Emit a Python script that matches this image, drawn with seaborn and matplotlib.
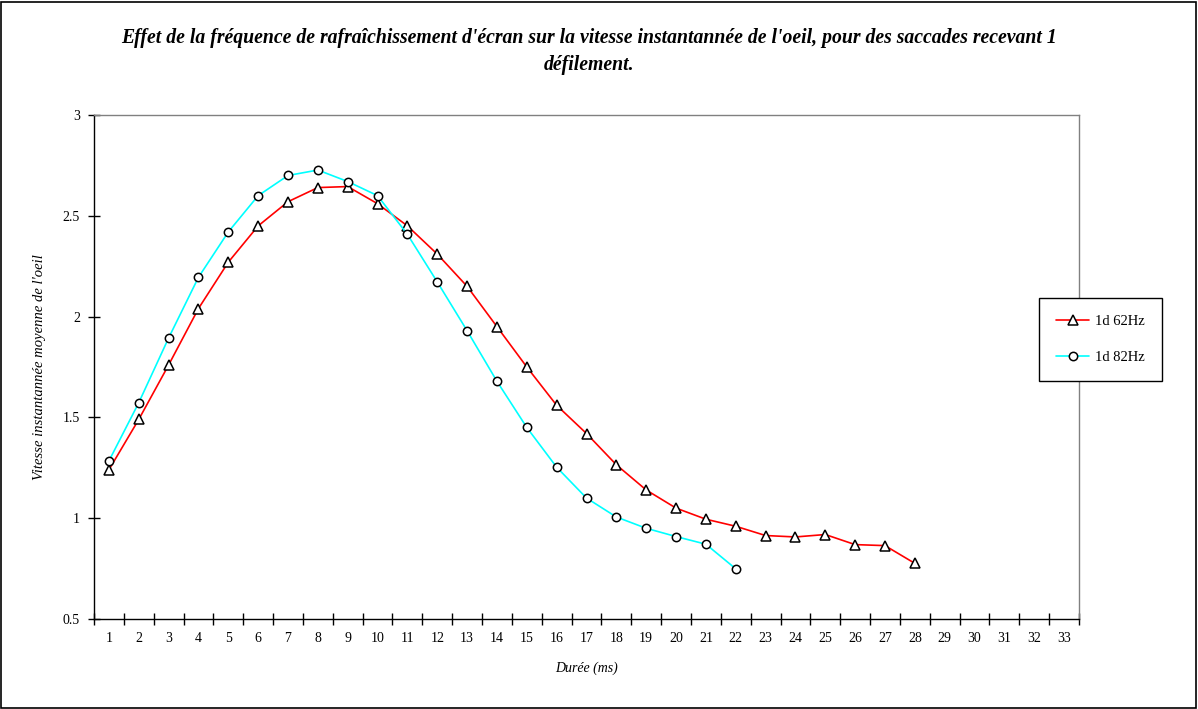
import pandas as pd
import matplotlib
matplotlib.use("Agg")
import matplotlib.pyplot as plt
import seaborn as sns
from matplotlib.patches import Rectangle

# Data
durations = list(range(1, 34))
hz62 = [1.24, 1.49, 1.76, 2.04, 2.27, 2.45, 2.57, 2.64, 2.645, 2.56,
        2.45, 2.31, 2.15, 1.95, 1.75, 1.56, 1.42, 1.265, 1.14, 1.05,
        0.995, 0.96, 0.914, 0.907, 0.919, 0.869, 0.864, 0.776]
hz82 = [1.284, 1.573, 1.894, 2.195, 2.42, 2.60, 2.70, 2.727, 2.67, 2.60,
        2.408, 2.172, 1.93, 1.679, 1.45, 1.253, 1.10, 1.006, 0.95, 0.909,
        0.871, 0.749]

df62 = pd.DataFrame({'Durée': durations[:len(hz62)], 'Vitesse': hz62})
df82 = pd.DataFrame({'Durée': durations[:len(hz82)], 'Vitesse': hz82})

sns.set_style("white")
plt.rcParams['font.family'] = ['Liberation Serif', 'DejaVu Serif']
plt.rcParams['text.color'] = 'black'
plt.rcParams['axes.labelcolor'] = 'black'
plt.rcParams['xtick.color'] = 'black'
plt.rcParams['ytick.color'] = 'black'

fig = plt.figure(figsize=(11.98, 7.09), dpi=100)
ax = fig.add_axes([94 / 1198, 90 / 709, 985 / 1198, 504 / 709])

sns.lineplot(data=df62, x='Durée', y='Vitesse', ax=ax, color='red', lw=1.2,
             marker='^', markersize=7, markerfacecolor='white',
             markeredgecolor='black', markeredgewidth=1.1, label='1d 62Hz')
sns.lineplot(data=df82, x='Durée', y='Vitesse', ax=ax, color='cyan', lw=1.2,
             marker='o', markersize=6, markerfacecolor='white',
             markeredgecolor='black', markeredgewidth=1.1, label='1d 82Hz')

ax.set_xlim(0.5, 33.5)
ax.set_ylim(0.5, 3)
ax.set_xticks(durations)
ax.set_xticks([d - 0.5 for d in durations] + [33.5], minor=True)
ax.set_yticks([0.5, 1, 1.5, 2, 2.5, 3])
ax.set_yticklabels(['0.5', '1', '1.5', '2', '2.5', '3'])
ax.tick_params(axis='x', which='major', bottom=True, length=0, labelsize=10, pad=9)
ax.tick_params(axis='x', which='minor', bottom=True, length=8, width=1,
               direction='inout', color='black')
ax.tick_params(axis='y', which='major', left=True, length=8, width=1,
               direction='inout', labelsize=10, color='black', pad=6)

for side in ['left', 'bottom']:
    ax.spines[side].set_color('black')
    ax.spines[side].set_linewidth(1)
for side in ['top', 'right']:
    ax.spines[side].set_color('#808080')
    ax.spines[side].set_linewidth(1)

ax.set_xlabel('Durée (ms)', fontsize=10, style='italic', labelpad=12)
ax.set_ylabel("Vitesse instantannée moyenne de l'oeil", fontsize=10.5,
              style='italic', labelpad=12)

leg = ax.legend(loc='upper left', bbox_to_anchor=(0.9594, 0.637), borderaxespad=0,
                frameon=True, fancybox=False, framealpha=1, edgecolor='black',
                fontsize=10.5, labelspacing=1.55, handlelength=2.3, borderpad=1.15,
                handletextpad=0.4)
leg.get_frame().set_linewidth(1)

fig.text(0.492, 0.927,
         "Effet de la fréquence de rafraîchissement d'écran sur la vitesse instantannée de l'oeil, pour des saccades recevant 1\ndéfilement.",
         ha='center', va='center', fontsize=14.2, fontweight='bold', style='italic',
         color='black', linespacing=1.45)

fig.patches.append(Rectangle((0.001, 0.002), 0.997, 0.995, transform=fig.transFigure,
                             fill=False, edgecolor='black', lw=1.2))

fig.savefig('out.png', dpi=100)
